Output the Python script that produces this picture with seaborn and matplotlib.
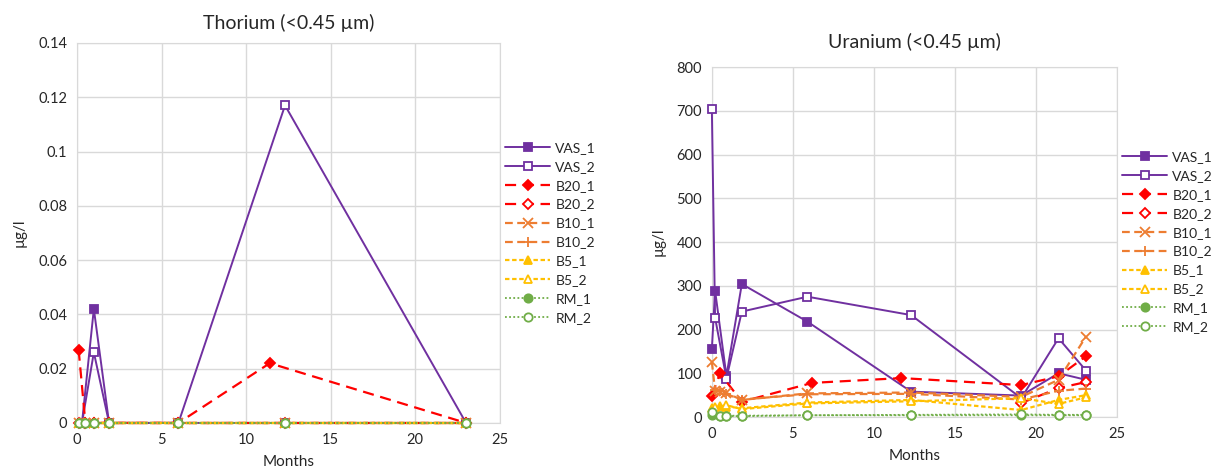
import numpy as np
import pandas as pd
import seaborn as sns
import matplotlib.pyplot as plt
from matplotlib.ticker import FuncFormatter, MultipleLocator

nan = np.nan

series = ['VAS_1', 'VAS_2', 'B20_1', 'B20_2', 'B10_1', 'B10_2', 'B5_1', 'B5_2', 'RM_1', 'RM_2']

# Thorium, sampling months (shared, NaN where a series has no sample)
th_months = [0.1, 0.3, 0.5, 1.0, 1.9, 6.0, 11.4, 12.3, 23.0]
th_vas1 = [nan, 0, nan, 0.042, 0, 0, nan, 0, 0]
th_vas2 = [nan, 0, nan, 0.026, 0, 0, nan, 0.117, 0]
th_b20_1 = [0.027, nan, 0, 0, 0, 0, 0.022, nan, 0]
th_b20_2 = [0, nan, 0, 0, 0, 0, nan, 0, 0]
th_b10_1 = [0, nan, 0, 0, 0, 0, nan, 0, 0]
th_b10_2 = [0, nan, 0, 0, 0, 0, nan, 0, 0]
th_b5_1 = [0, nan, 0, 0, 0, 0, nan, 0, 0]
th_b5_2 = [0, nan, 0, 0, 0, 0, nan, 0, 0]
th_rm_1 = [0, nan, 0, 0, 0, 0, nan, 0, 0]
th_rm_2 = [0, nan, 0, 0, 0, 0, nan, 0, 0]

# Uranium
u_months = [0, 0.2, 0.5, 0.9, 1.85, 5.9, 6.2, 11.7, 12.3, 19.1, 21.4, 23.1]
u_vas1 = [155, 289, nan, 94, 304, 218, nan, nan, 58, 49, 100, 85]
u_vas2 = [705, 227, nan, 88, 241, 275, nan, nan, 233, 43, 180, 106]
u_b20_1 = [49, nan, 100, nan, 35, nan, 78, 89, nan, 73, 93, 139]
u_b20_2 = [nan, nan, nan, nan, nan, nan, nan, nan, nan, 32, 66, 80]
u_b10_1 = [126, 60, 58, 55, 39, 54, nan, nan, 56, 46, 85, 184]
u_b10_2 = [nan, 62, 60, 52, 40, 52, nan, nan, 53, 40, 60, 65]
u_b5_1 = [20, nan, 25, 24, 20, 33, nan, nan, 39, 16, 39, 50]
u_b5_2 = [nan, 22, nan, 27, 18, 31, nan, nan, 36, 43, 30, 45]
u_rm_1 = [5, nan, 3, 3, 3, 4, nan, nan, 4, 4, 4, 4]
u_rm_2 = [12, nan, 2, 2, 2, 4, nan, nan, 5, 6, 5, 5]

th_values = [th_vas1, th_vas2, th_b20_1, th_b20_2, th_b10_1, th_b10_2, th_b5_1, th_b5_2, th_rm_1, th_rm_2]
u_values = [u_vas1, u_vas2, u_b20_1, u_b20_2, u_b10_1, u_b10_2, u_b5_1, u_b5_2, u_rm_1, u_rm_2]

purple = '#7030A0'
red = '#FF0000'
orange = '#ED7D31'
yellow = '#FFC000'
green = '#70AD47'

# colour, dash pattern, marker, filled
styles = {
    'VAS_1': (purple, '-', 's', True),
    'VAS_2': (purple, '-', 's', False),
    'B20_1': (red, (0, (5, 3)), 'D', True),
    'B20_2': (red, (0, (5, 3)), 'D', False),
    'B10_1': (orange, (0, (3.5, 2)), 'x', True),
    'B10_2': (orange, (0, (3.5, 2)), '+', True),
    'B5_1': (yellow, (0, (2, 1.2)), '^', True),
    'B5_2': (yellow, (0, (2, 1.2)), '^', False),
    'RM_1': (green, (0, (1, 1.3)), 'o', True),
    'RM_2': (green, (0, (1, 1.3)), 'o', False),
}


def long_form(months, values):
    frames = []
    for name, vals in zip(series, values):
        frames.append(pd.DataFrame({'month': months, 'value': vals, 'series': name}))
    return pd.concat(frames).dropna()


sns.set_style('white')
plt.rcParams['font.family'] = ['Lato', 'DejaVu Sans']

fig = plt.figure(figsize=(12.21, 4.72), dpi=100)
ax1 = fig.add_axes([0.063, 0.104, 0.3464, 0.805])
ax2 = fig.add_axes([0.583, 0.1165, 0.3317, 0.7415])


def draw(ax, df):
    for name in series:
        color, ls, marker, filled = styles[name]
        sub = df[df['series'] == name]
        ms = 6 if marker in ('s', 'o') else 5.5
        if marker in ('x', '+'):
            ms = 7
        lw = 1.4 if name.startswith('VAS') else 1.6
        if name.startswith('RM'):
            lw = 1.3
        sns.lineplot(data=sub, x='month', y='value', ax=ax, sort=False, estimator=None,
                     color=color, linestyle=ls, linewidth=lw, marker=marker,
                     markersize=ms, markeredgecolor=color, markeredgewidth=1.3,
                     markerfacecolor=color if filled else 'white', label=name,
                     clip_on=False, zorder=3)


draw(ax1, long_form(th_months, th_values))
draw(ax2, long_form(u_months, u_values))

ax1.set_xlim(0, 25)
ax1.set_ylim(0, 0.14)
ax1.yaxis.set_major_locator(MultipleLocator(0.02))
ax1.yaxis.set_major_formatter(FuncFormatter(lambda v, p: '{:g}'.format(round(v, 3))))
ax1.set_title('Thorium (<0.45 µm)', fontsize=14, pad=10)

ax2.set_xlim(0, 25)
ax2.set_ylim(0, 800)
ax2.yaxis.set_major_locator(MultipleLocator(100))
ax2.set_title('Uranium (<0.45 µm)', fontsize=14, pad=14)

for ax in (ax1, ax2):
    ax.xaxis.set_major_locator(MultipleLocator(5))
    ax.grid(True, color='#D9D9D9', linewidth=1)
    ax.set_axisbelow(True)
    for s in ax.spines.values():
        s.set_color('#D9D9D9')
    ax.tick_params(length=0, labelsize=10.5, colors='#262626', pad=7)
    ax.set_xlabel('Months', fontsize=11, color='#262626', labelpad=6)
    ax.set_ylabel('µg/l', fontsize=11, color='#262626', labelpad=8)
    ax.legend(loc='center left', bbox_to_anchor=(1.0, 0.5), frameon=False, fontsize=10,
              handlelength=3.2, handletextpad=0.4, labelspacing=0.5, borderaxespad=0.0)

fig.savefig('out.png', dpi=100)
